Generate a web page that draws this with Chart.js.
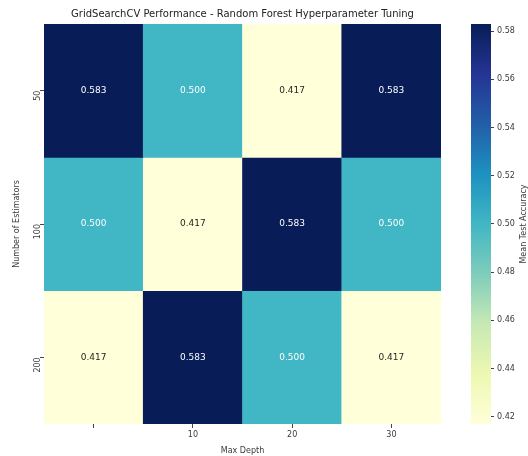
<!DOCTYPE html>
<html>
<head>
<meta charset="utf-8">
<script src="https://cdn.jsdelivr.net/npm/chart.js@4.4.1/dist/chart.umd.min.js"></script>
<style>
  html, body { margin: 0; padding: 0; background: #fff; }
  #wrap { position: relative; width: 528px; height: 456px; }
  #heatmap { position: absolute; left: 0; top: 0; }
  #colorbar { position: absolute; left: 456px; top: 0; }
</style>
</head>
<body>
<div id="wrap">
  <canvas id="heatmap" width="528" height="456"></canvas>
  <canvas id="colorbar" width="72" height="456"></canvas>
</div>
<script>
const maxDepthLabels = ["", "10", "20", "30"];
const estimatorLabels = ["50", "100", "200"];

const accuracy50 = [0.583, 0.500, 0.417, 0.583];
const accuracy100 = [0.500, 0.417, 0.583, 0.500];
const accuracy200 = [0.417, 0.583, 0.500, 0.417];
const accuracyRows = [accuracy50, accuracy100, accuracy200];

const colorbarTicks = [0.42, 0.44, 0.46, 0.48, 0.50, 0.52, 0.54, 0.56, 0.58];
const vmin = 0.417;
const vmax = 0.583;

// YlGnBu colormap stops
const ylGnBu = ["#ffffd9", "#edf8b1", "#c7e9b4", "#7fcdbb", "#41b6c4",
  "#1d91c0", "#225ea8", "#253494", "#081d58"];

const FONT = "'DejaVu Sans', sans-serif";
const TEXT = "#3a3a3a";

function hexToRgb(hex) {
  const n = parseInt(hex.slice(1), 16);
  return [(n >> 16) & 255, (n >> 8) & 255, n & 255];
}

function colorFor(value) {
  let t = (value - vmin) / (vmax - vmin);
  t = Math.max(0, Math.min(1, t));
  const pos = t * (ylGnBu.length - 1);
  const i = Math.min(Math.floor(pos), ylGnBu.length - 2);
  const f = pos - i;
  const a = hexToRgb(ylGnBu[i]);
  const b = hexToRgb(ylGnBu[i + 1]);
  const c = a.map((v, k) => Math.round(v + (b[k] - v) * f));
  return `rgb(${c[0]}, ${c[1]}, ${c[2]})`;
}

const datasets = accuracyRows.map((row, r) => ({
  label: estimatorLabels[r],
  data: row.map(() => [r, r + 1]),
  values: row,
  backgroundColor: row.map(colorFor),
  borderWidth: 0,
  barPercentage: 1,
  categoryPercentage: 1,
  grouped: false
}));

const cellLabels = {
  id: "cellLabels",
  afterDatasetsDraw(chart) {
    const ctx = chart.ctx;
    ctx.save();
    ctx.font = `9px ${FONT}`;
    ctx.textAlign = "center";
    ctx.textBaseline = "middle";
    chart.data.datasets.forEach((ds, d) => {
      chart.getDatasetMeta(d).data.forEach((bar, i) => {
        const v = ds.values[i];
        ctx.fillStyle = v >= 0.45 ? "#ffffff" : "#262626";
        ctx.fillText(v.toFixed(3), bar.x, (bar.y + bar.base) / 2);
      });
    });
    ctx.restore();
  }
};

const heatmapTitle = {
  id: "heatmapTitle",
  afterDraw(chart) {
    const ctx = chart.ctx;
    const a = chart.chartArea;
    ctx.save();
    ctx.font = `10px ${FONT}`;
    ctx.fillStyle = "#222";
    ctx.textAlign = "center";
    ctx.textBaseline = "middle";
    ctx.fillText("GridSearchCV Performance - Random Forest Hyperparameter Tuning",
      (a.left + a.right) / 2, 14);
    ctx.restore();
  }
};

new Chart(document.getElementById("heatmap"), {
  type: "bar",
  data: { labels: maxDepthLabels, datasets },
  options: {
    responsive: false,
    animation: false,
    layout: { padding: { left: 12, right: 87, top: 24 } },
    plugins: {
      legend: { display: false },
      tooltip: { enabled: false }
    },
    scales: {
      x: {
        grid: { display: true, offset: false, drawOnChartArea: false, tickLength: 4, color: "#444" },
        border: { display: false },
        ticks: { color: TEXT, font: { family: FONT, size: 8 }, padding: 2, maxRotation: 0 },
        title: {
          display: true, text: "Max Depth", color: TEXT,
          font: { family: FONT, size: 8 }, padding: { top: 2, bottom: 0 }
        },
        afterFit: (scale) => { scale.height = 32; }
      },
      y: {
        type: "linear",
        min: 0,
        max: 3,
        reverse: true,
        grid: { display: true, drawOnChartArea: false, tickLength: 4, color: "#444" },
        border: { display: false },
        afterBuildTicks: (scale) => {
          scale.ticks = estimatorLabels.map((_, i) => ({ value: i + 0.5 }));
        },
        ticks: {
          color: TEXT,
          font: { family: FONT, size: 8 },
          minRotation: 90,
          maxRotation: 90,
          padding: 2,
          callback: (value) => estimatorLabels[Math.floor(value)]
        },
        title: {
          display: true, text: "Number of Estimators", color: TEXT,
          font: { family: FONT, size: 8 }, padding: { top: 0, bottom: 2 }
        },
        afterFit: (scale) => { scale.width = 32; }
      }
    }
  },
  plugins: [cellLabels, heatmapTitle]
});

const colorbarTitle = {
  id: "colorbarTitle",
  afterDraw(chart) {
    const ctx = chart.ctx;
    const a = chart.chartArea;
    ctx.save();
    ctx.translate(68, (a.top + a.bottom) / 2);
    ctx.rotate(-Math.PI / 2);
    ctx.font = `8px ${FONT}`;
    ctx.fillStyle = TEXT;
    ctx.textAlign = "center";
    ctx.textBaseline = "middle";
    ctx.fillText("Mean Test Accuracy", 0, 0);
    ctx.restore();
  }
};

new Chart(document.getElementById("colorbar"), {
  type: "bar",
  data: {
    labels: [""],
    datasets: [{
      data: [[vmin, vmax]],
      borderWidth: 0,
      barPercentage: 1,
      categoryPercentage: 1,
      backgroundColor: (context) => {
        const area = context.chart.chartArea;
        if (!area) return ylGnBu[4];
        const g = context.chart.ctx.createLinearGradient(0, area.bottom, 0, area.top);
        ylGnBu.forEach((c, i) => g.addColorStop(i / (ylGnBu.length - 1), c));
        return g;
      }
    }]
  },
  options: {
    responsive: false,
    animation: false,
    layout: { padding: { left: 15, top: 24, bottom: 32 } },
    plugins: { legend: { display: false }, tooltip: { enabled: false } },
    scales: {
      x: { display: false },
      y: {
        position: "right",
        min: vmin,
        max: vmax,
        grid: { display: true, drawOnChartArea: false, tickLength: 3, color: "#444" },
        border: { display: false },
        afterBuildTicks: (scale) => {
          scale.ticks = colorbarTicks.map((v) => ({ value: v }));
        },
        ticks: {
          color: TEXT,
          font: { family: FONT, size: 8 },
          padding: 3,
          callback: (value) => value.toFixed(2)
        },
        afterFit: (scale) => { scale.width = 37; }
      }
    }
  },
  plugins: [colorbarTitle]
});
</script>
</body>
</html>
